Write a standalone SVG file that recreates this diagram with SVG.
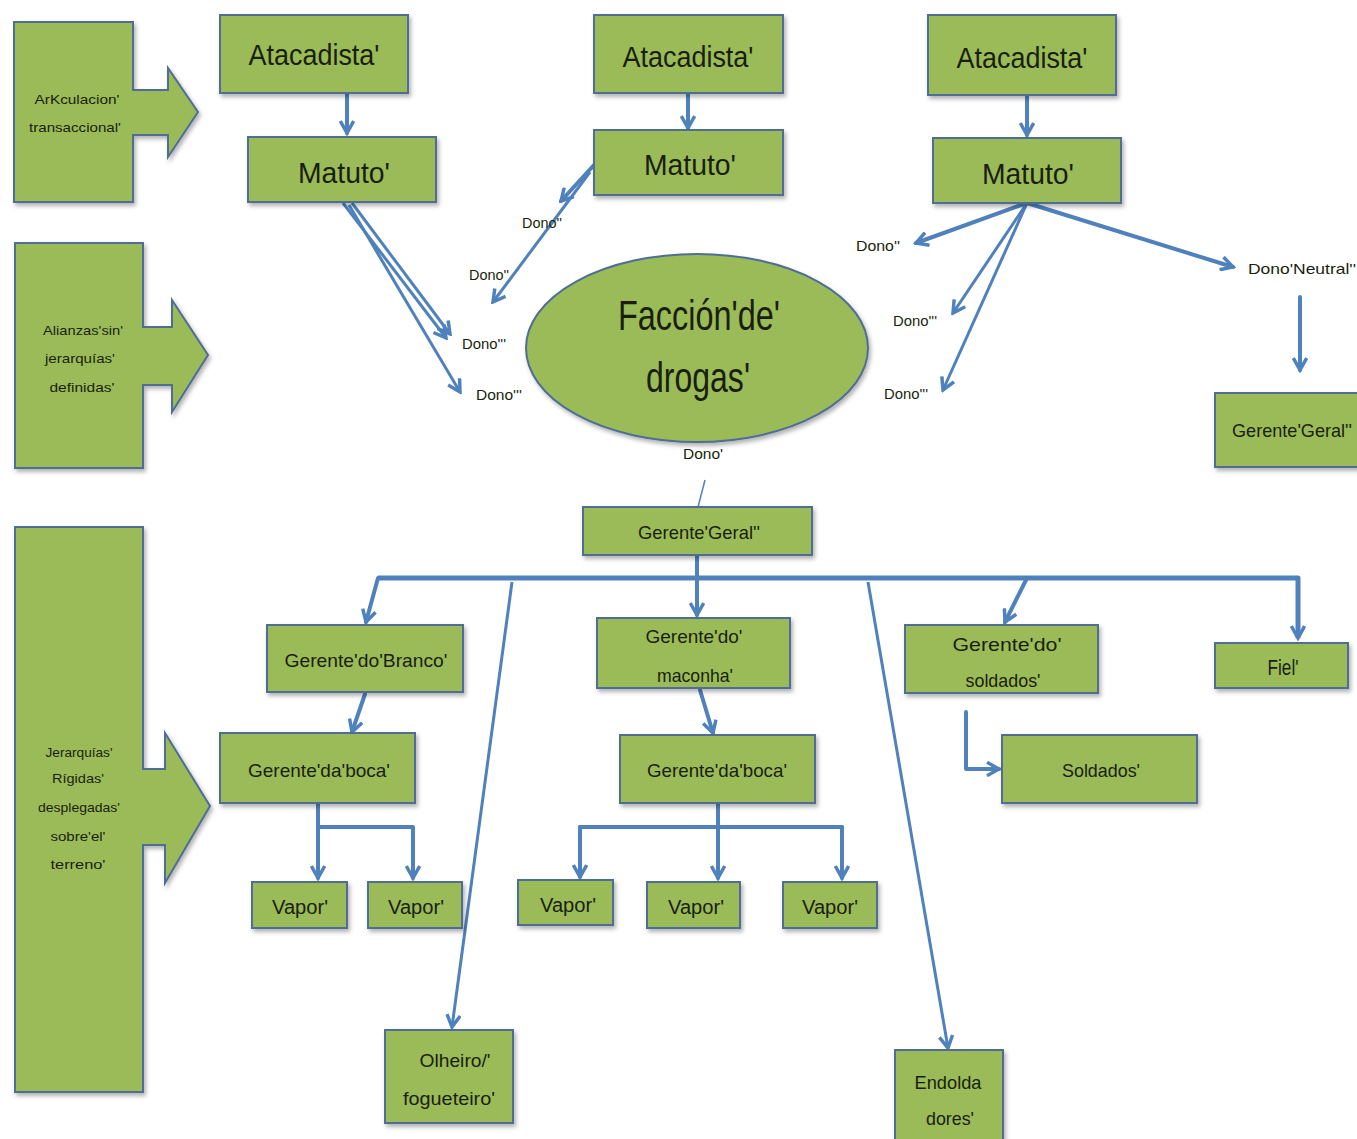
<svg xmlns="http://www.w3.org/2000/svg" width="1357" height="1139" viewBox="0 0 1357 1139">
<defs>
<filter id="sh" x="-10%" y="-10%" width="130%" height="140%">
<feDropShadow dx="2" dy="3" stdDeviation="2" flood-color="#000" flood-opacity="0.3"/>
</filter>
<marker id="arr" viewBox="0 0 12 12" refX="10" refY="6" markerWidth="16" markerHeight="16" markerUnits="userSpaceOnUse" orient="auto">
<path d="M1,1 L10,6 L1,11" fill="none" stroke="#4f81bd" stroke-width="2.6" stroke-linejoin="miter"/>
</marker>
</defs>
<style>
.box{fill:#9bbb59;stroke:#4f6d95;stroke-width:2;filter:url(#sh)}
.pan{fill:#9bbb59;stroke:#4f6d95;stroke-width:2;filter:url(#sh)}
.t{font-family:"Liberation Sans Narrow","Liberation Sans",Arial,sans-serif;fill:#1a1f0d;text-anchor:middle}
.c{fill:none;stroke:#4f81bd;stroke-width:4;stroke-linecap:round;stroke-linejoin:round}
.cb{fill:none;stroke:#4f81bd;stroke-width:5;stroke-linejoin:round}
.ct{fill:none;stroke:#4f81bd;stroke-width:3}
.d{font-size:15px}
</style>
<rect width="1357" height="1139" fill="#ffffff"/>

<g id="connectors">
<path class="c" d="M347,93 V133" marker-end="url(#arr)"/>
<path class="c" d="M688,93 V128" marker-end="url(#arr)"/>
<path class="c" d="M1027,95 V135" marker-end="url(#arr)"/>
<path class="ct" d="M343,203 L446,338" marker-end="url(#arr)"/>
<path class="ct" d="M352,203 L450,334" marker-end="url(#arr)"/>
<path class="ct" d="M349,205 L460,392" marker-end="url(#arr)"/>
<path class="c" d="M594,165 L561,201" marker-end="url(#arr)"/>
<path class="ct" d="M590,172 L493,302" marker-end="url(#arr)"/>
<path class="c" d="M1027,203 L916,243" marker-end="url(#arr)"/>
<path class="ct" d="M1027,203 L953,313" marker-end="url(#arr)"/>
<path class="ct" d="M1027,203 L943,390" marker-end="url(#arr)"/>
<path class="c" d="M1027,203 L1233,267" marker-end="url(#arr)"/>
<path class="c" d="M1300,297 V370" marker-end="url(#arr)"/>
<path fill="none" stroke="#4f81bd" stroke-width="1.5" d="M705,480 L698,507"/>
<path class="c" d="M697,555 V615" marker-end="url(#arr)"/>
<path class="cb" d="M378,578 H1298 V638" marker-end="url(#arr)"/>
<path class="c" d="M378,578 L366,622" marker-end="url(#arr)"/>
<path class="c" d="M1027,578 L1005,622" marker-end="url(#arr)"/>
<path class="ct" d="M512,582 L452,1027" marker-end="url(#arr)"/>
<path class="ct" d="M868,582 L948,1048" marker-end="url(#arr)"/>
<path class="c" d="M365,694 L352,732" marker-end="url(#arr)"/>
<path class="c" d="M700,690 L713,733" marker-end="url(#arr)"/>
<path class="c" d="M318,803 V878" marker-end="url(#arr)"/>
<path class="c" d="M318,827 H413 V878" marker-end="url(#arr)"/>
<path class="c" d="M718,803 V878" marker-end="url(#arr)"/>
<path class="c" d="M580,827 H842"/>
<path class="c" d="M580,827 V877" marker-end="url(#arr)"/>
<path class="c" d="M842,827 V878" marker-end="url(#arr)"/>
<path class="c" d="M966,712 V769 H999" marker-end="url(#arr)"/>
</g>

<g id="panel1">
<path class="pan" d="M14,22 H133 V90 H168 V68 L198,112 L168,157 V135 H133 V202 H14 Z"/>
<text class="t" x="77" y="104" font-size="13" textLength="85" lengthAdjust="spacingAndGlyphs">ArKculacion'</text>
<text class="t" x="75" y="132" font-size="13" textLength="92" lengthAdjust="spacingAndGlyphs">transaccional'</text>
</g>
<g id="panel2">
<path class="pan" d="M15,243 H143 V327 H172 V300 L208,355 L172,412 V385 H143 V468 H15 Z"/>
<text class="t" x="83" y="335" font-size="13" textLength="80" lengthAdjust="spacingAndGlyphs">Alianzas'sin'</text>
<text class="t" x="80" y="363" font-size="13" textLength="70" lengthAdjust="spacingAndGlyphs">jerarquías'</text>
<text class="t" x="82" y="392" font-size="13" textLength="65" lengthAdjust="spacingAndGlyphs">definidas'</text>
</g>
<g id="panel3">
<path class="pan" d="M15,527 H143 V769 H165 V733 L210,806 L165,883 V845 H143 V1092 H15 Z"/>
<text class="t" x="79" y="757" font-size="13" textLength="67" lengthAdjust="spacingAndGlyphs">Jerarquías'</text>
<text class="t" x="78" y="783" font-size="13" textLength="52" lengthAdjust="spacingAndGlyphs">Rígidas'</text>
<text class="t" x="79" y="812" font-size="13" textLength="82" lengthAdjust="spacingAndGlyphs">desplegadas'</text>
<text class="t" x="78" y="841" font-size="13" textLength="55" lengthAdjust="spacingAndGlyphs">sobre'el'</text>
<text class="t" x="78" y="869" font-size="13" textLength="55" lengthAdjust="spacingAndGlyphs">terreno'</text>
</g>

<g id="atacadista1"><rect class="box" x="220" y="15" width="188" height="78"/><text class="t" x="314" y="65" font-size="30" textLength="131" lengthAdjust="spacingAndGlyphs">Atacadista'</text></g>
<g id="atacadista2"><rect class="box" x="594" y="15" width="189" height="78"/><text class="t" x="688" y="67" font-size="30" textLength="131" lengthAdjust="spacingAndGlyphs">Atacadista'</text></g>
<g id="atacadista3"><rect class="box" x="928" y="15" width="188" height="80"/><text class="t" x="1022" y="68" font-size="30" textLength="131" lengthAdjust="spacingAndGlyphs">Atacadista'</text></g>
<g id="matuto1"><rect class="box" x="248" y="137" width="188" height="65"/><text class="t" x="344" y="183" font-size="30" textLength="92" lengthAdjust="spacingAndGlyphs">Matuto'</text></g>
<g id="matuto2"><rect class="box" x="594" y="130" width="189" height="65"/><text class="t" x="690" y="175" font-size="30" textLength="92" lengthAdjust="spacingAndGlyphs">Matuto'</text></g>
<g id="matuto3"><rect class="box" x="933" y="138" width="188" height="65"/><text class="t" x="1028" y="184" font-size="30" textLength="92" lengthAdjust="spacingAndGlyphs">Matuto'</text></g>

<g id="faccion">
<ellipse cx="697" cy="348" rx="171" ry="94" fill="#9bbb59" stroke="#4f6d95" stroke-width="2" filter="url(#sh)"/>
<text class="t" x="699" y="330" font-size="42" textLength="162" lengthAdjust="spacingAndGlyphs">Facción'de'</text>
<text class="t" x="698" y="392" font-size="42" textLength="104" lengthAdjust="spacingAndGlyphs">drogas'</text>
</g>

<g id="dono-l1"><text class="t d" x="542" y="228" textLength="40" lengthAdjust="spacingAndGlyphs">Dono''</text></g>
<g id="dono-l2"><text class="t d" x="489" y="280" textLength="40" lengthAdjust="spacingAndGlyphs">Dono''</text></g>
<g id="dono-l3"><text class="t d" x="484" y="349" textLength="44" lengthAdjust="spacingAndGlyphs">Dono'''</text></g>
<g id="dono-l4"><text class="t d" x="499" y="400" textLength="46" lengthAdjust="spacingAndGlyphs">Dono'''</text></g>
<g id="dono-r1"><text class="t d" x="878" y="251" textLength="44" lengthAdjust="spacingAndGlyphs">Dono''</text></g>
<g id="dono-r2"><text class="t d" x="915" y="326" textLength="44" lengthAdjust="spacingAndGlyphs">Dono'''</text></g>
<g id="dono-r3"><text class="t d" x="906" y="399" textLength="44" lengthAdjust="spacingAndGlyphs">Dono'''</text></g>
<g id="dono-neutral"><text class="t d" x="1302" y="274" textLength="108" lengthAdjust="spacingAndGlyphs">Dono'Neutral''</text></g>
<g id="dono-center"><text class="t d" x="703" y="459" textLength="40" lengthAdjust="spacingAndGlyphs">Dono'</text></g>

<g id="gerente-geral-r"><rect class="box" x="1215" y="393" width="147" height="74"/><text class="t" x="1292" y="437" font-size="19" textLength="120" lengthAdjust="spacingAndGlyphs">Gerente'Geral''</text></g>
<g id="gerente-geral"><rect class="box" x="583" y="507" width="229" height="48"/><text class="t" x="699" y="539" font-size="19" textLength="122" lengthAdjust="spacingAndGlyphs">Gerente'Geral''</text></g>

<g id="gerente-branco"><rect class="box" x="267" y="625" width="196" height="67"/><text class="t" x="366" y="667" font-size="19" textLength="163" lengthAdjust="spacingAndGlyphs">Gerente'do'Branco'</text></g>
<g id="gerente-maconha"><rect class="box" x="597" y="618" width="193" height="70"/><text class="t" x="694" y="643" font-size="19" textLength="97" lengthAdjust="spacingAndGlyphs">Gerente'do'</text><text class="t" x="695" y="682" font-size="19" textLength="76" lengthAdjust="spacingAndGlyphs">maconha'</text></g>
<g id="gerente-soldados"><rect class="box" x="905" y="625" width="193" height="68"/><text class="t" x="1007" y="651" font-size="19" textLength="109" lengthAdjust="spacingAndGlyphs">Gerente'do'</text><text class="t" x="1003" y="687" font-size="19" textLength="75" lengthAdjust="spacingAndGlyphs">soldados'</text></g>
<g id="fiel"><rect class="box" x="1215" y="643" width="133" height="45"/><text class="t" x="1283" y="675" font-size="22" textLength="31" lengthAdjust="spacingAndGlyphs">Fiel'</text></g>

<g id="gerente-boca1"><rect class="box" x="220" y="733" width="195" height="70"/><text class="t" x="319" y="777" font-size="19" textLength="142" lengthAdjust="spacingAndGlyphs">Gerente'da'boca'</text></g>
<g id="gerente-boca2"><rect class="box" x="620" y="735" width="195" height="68"/><text class="t" x="717" y="777" font-size="19" textLength="140" lengthAdjust="spacingAndGlyphs">Gerente'da'boca'</text></g>
<g id="soldados"><rect class="box" x="1002" y="735" width="195" height="68"/><text class="t" x="1101" y="777" font-size="19" textLength="78" lengthAdjust="spacingAndGlyphs">Soldados'</text></g>

<g id="vapor1"><rect class="box" x="252" y="882" width="95" height="46"/><text class="t" x="300" y="914" font-size="20" textLength="56" lengthAdjust="spacingAndGlyphs">Vapor'</text></g>
<g id="vapor2"><rect class="box" x="368" y="882" width="94" height="46"/><text class="t" x="416" y="914" font-size="20" textLength="56" lengthAdjust="spacingAndGlyphs">Vapor'</text></g>
<g id="vapor3"><rect class="box" x="518" y="880" width="95" height="45"/><text class="t" x="568" y="912" font-size="20" textLength="56" lengthAdjust="spacingAndGlyphs">Vapor'</text></g>
<g id="vapor4"><rect class="box" x="647" y="882" width="93" height="46"/><text class="t" x="696" y="914" font-size="20" textLength="56" lengthAdjust="spacingAndGlyphs">Vapor'</text></g>
<g id="vapor5"><rect class="box" x="783" y="882" width="94" height="46"/><text class="t" x="830" y="914" font-size="20" textLength="56" lengthAdjust="spacingAndGlyphs">Vapor'</text></g>

<g id="olheiro"><rect class="box" x="385" y="1030" width="128" height="93"/><text class="t" x="455" y="1067" font-size="19" textLength="71" lengthAdjust="spacingAndGlyphs">Olheiro/'</text><text class="t" x="449" y="1105" font-size="19" textLength="92" lengthAdjust="spacingAndGlyphs">fogueteiro'</text></g>
<g id="endoldadores"><rect class="box" x="895" y="1050" width="108" height="98"/><text class="t" x="948" y="1089" font-size="19" textLength="67" lengthAdjust="spacingAndGlyphs">Endolda</text><text class="t" x="950" y="1125" font-size="19" textLength="48" lengthAdjust="spacingAndGlyphs">dores'</text></g>
</svg>
